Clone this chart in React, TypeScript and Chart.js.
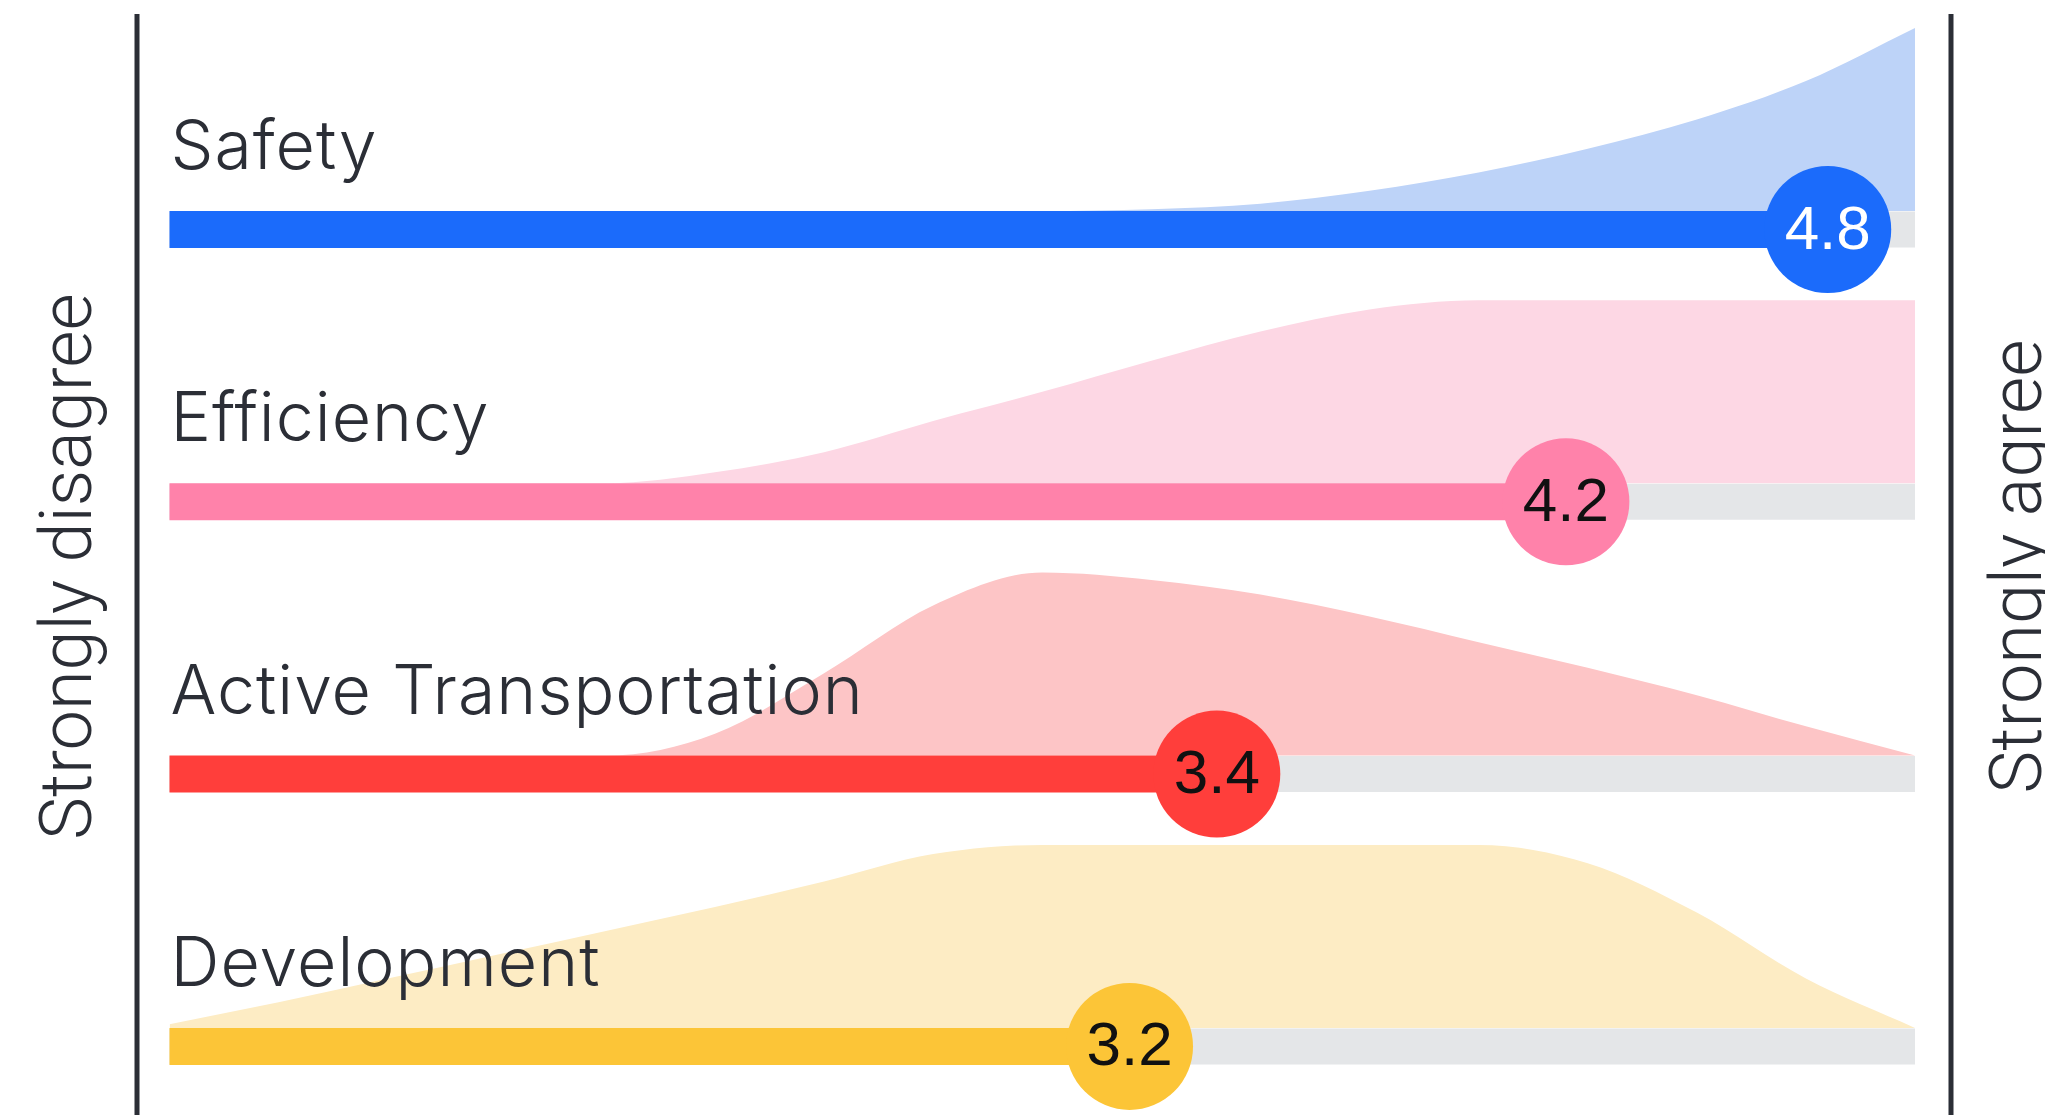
import React, { useEffect, useRef } from 'react';
import { Chart, registerables } from 'chart.js';

Chart.register(...registerables);

// ---- data ----
const CATEGORIES = ['Safety', 'Efficiency', 'Active Transportation', 'Development'];
const MEANS = [4.8, 4.2, 3.4, 3.2];
const END_LABELS = ['Strongly disagree', 'Strongly agree'];

// response scale sample positions (1 = strongly disagree, 5 = strongly agree)
const SCALE_POINTS = [1, 1.25, 1.5, 1.75, 2, 2.25, 2.5, 2.75, 3, 3.25, 3.5, 3.75, 4, 4.25, 4.5, 4.75, 5];

// relative share of responses along the scale (1 = tallest)
const SAFETY_DIST = [0, 0, 0, 0, 0, 0, 0, 0, 0, 0.01, 0.04, 0.11, 0.21, 0.34, 0.5, 0.71, 1];
const EFFICIENCY_DIST = [0, 0, 0, 0, 0, 0.06, 0.17, 0.34, 0.5, 0.67, 0.83, 0.95, 1, 1, 1, 1, 1];
const ACTIVE_DIST = [0, 0, 0, 0, 0, 0.12, 0.45, 0.82, 1, 0.96, 0.88, 0.76, 0.62, 0.48, 0.33, 0.16, 0];
const DEVELOPMENT_DIST = [0.02, 0.14, 0.27, 0.4, 0.53, 0.66, 0.8, 0.95, 1, 1, 1, 1, 1, 0.9, 0.63, 0.27, 0];

const DISTS = [SAFETY_DIST, EFFICIENCY_DIST, ACTIVE_DIST, DEVELOPMENT_DIST];

// ---- styles ----
const BAR_COLORS = ['#1b6bfb', '#ff82aa', '#ff3e3b', '#fcc537'];
const AREA_COLORS = ['#bdd3f8', '#fdd7e4', '#fdc5c6', '#fdecc4'];
const VALUE_TEXT_COLORS = ['#ffffff', '#111111', '#111111', '#111111'];
const TRACK_COLOR = '#e4e6e8';
const TEXT_COLOR = '#2b2e36';

const ROW_PX = 272.3;
const BAR_W = 37;
const BAR_HALF = BAR_W / 2 / ROW_PX; // in row units
const AREA_H = 183 / ROW_PX; // in row units
const Y_MIN = -229.5 / ROW_PX;
const Y_MAX = Y_MIN + 1115 / ROW_PX;

const decorPlugin = {
  id: 'decor',
  afterDatasetsDraw(chart: any) {
    const { ctx, chartArea, scales } = chart;
    const x = scales.x;
    const y = scales.y;
    ctx.save();

    // axis lines
    ctx.strokeStyle = TEXT_COLOR;
    ctx.lineWidth = 5;
    const lx = chartArea.left - 32.5;
    const rx = chartArea.right + 36;
    ctx.beginPath();
    ctx.moveTo(lx, 14);
    ctx.lineTo(lx, chart.height);
    ctx.moveTo(rx, 14);
    ctx.lineTo(rx, chart.height);
    ctx.stroke();

    // category labels
    ctx.fillStyle = TEXT_COLOR;
    ctx.font = '300 68px Inter';
    (ctx as any).letterSpacing = '1px';
    ctx.textAlign = 'left';
    ctx.textBaseline = 'alphabetic';
    CATEGORIES.forEach((c, k) => {
      ctx.fillText(c, x.getPixelForValue(1) + 1, y.getPixelForValue(k) - BAR_W / 2 - 42);
    });
    (ctx as any).letterSpacing = '0px';

    // value labels in circles
    ctx.font = '62px "Liberation Sans"';
    ctx.textAlign = 'center';
    ctx.textBaseline = 'middle';
    MEANS.forEach((m, k) => {
      ctx.fillStyle = VALUE_TEXT_COLORS[k];
      ctx.fillText(m.toFixed(1), x.getPixelForValue(m), y.getPixelForValue(k) + 2);
    });

    // side titles
    ctx.fillStyle = TEXT_COLOR;
    ctx.font = '300 72px Roboto';
    ctx.textAlign = 'center';
    ctx.textBaseline = 'middle';
    const cy = chart.height / 2 + 9;
    ctx.save();
    ctx.translate(lx - 64, cy);
    ctx.rotate(-Math.PI / 2);
    ctx.fillText(END_LABELS[0], 0, 0);
    ctx.restore();
    ctx.save();
    ctx.translate(rx + 72, cy);
    ctx.rotate(-Math.PI / 2);
    ctx.fillText(END_LABELS[1], 0, 0);
    ctx.restore();

    ctx.restore();
  },
};

export default function App() {
  const ref = useRef<HTMLCanvasElement>(null);

  useEffect(() => {
    document.body.style.margin = '0';
    const canvas = ref.current;
    if (!canvas) return;
    const datasets: any[] = [];
    CATEGORIES.forEach((cat, k) => {
      const base = k - BAR_HALF;
      datasets.push({
        type: 'line',
        label: cat + ' distribution',
        data: SCALE_POINTS.map((sx, i) => ({ x: sx, y: base - DISTS[k][i] * AREA_H })),
        fill: { value: base },
        backgroundColor: AREA_COLORS[k],
        borderColor: 'transparent',
        borderWidth: 0,
        pointRadius: 0,
        cubicInterpolationMode: 'monotone',
        order: 3,
        clip: false,
      });
      datasets.push({
        type: 'line',
        label: cat + ' track',
        data: [
          { x: 1, y: k },
          { x: 5, y: k },
        ],
        borderColor: TRACK_COLOR,
        borderWidth: BAR_W - 1,
        borderCapStyle: 'butt',
        pointRadius: 0,
        fill: false,
        order: 2,
        clip: false,
      });
      datasets.push({
        type: 'line',
        label: cat + ' bar',
        data: [
          { x: 1, y: k },
          { x: MEANS[k], y: k },
        ],
        borderColor: BAR_COLORS[k],
        borderWidth: BAR_W,
        borderCapStyle: 'butt',
        pointRadius: 0,
        fill: false,
        order: 1,
        clip: false,
      });
      datasets.push({
        type: 'scatter',
        label: cat + ' mean',
        data: [{ x: MEANS[k], y: k }],
        pointRadius: 63.5,
        pointHoverRadius: 63.5,
        backgroundColor: BAR_COLORS[k],
        borderWidth: 0,
        order: 0,
        clip: false,
      });
    });

    const chart = new Chart(canvas, {
      type: 'line',
      data: { datasets },
      options: {
        animation: false,
        responsive: false,
        events: [],
        layout: { autoPadding: false, padding: { left: 169.5, right: 130, top: 0, bottom: 0 } },
        plugins: { legend: { display: false }, tooltip: { enabled: false } },
        scales: {
          x: { type: 'linear', min: 1, max: 5, display: false },
          y: { type: 'linear', min: Y_MIN, max: Y_MAX, reverse: true, display: false },
        },
      },
      plugins: [decorPlugin],
    } as any);
    return () => chart.destroy();
  }, []);

  return (
    <div style={{ position: 'fixed', left: 0, top: 0, width: 2045, height: 1115, background: '#ffffff' }}>
      <canvas ref={ref} width={2045} height={1115} style={{ display: 'block' }} />
    </div>
  );
}
